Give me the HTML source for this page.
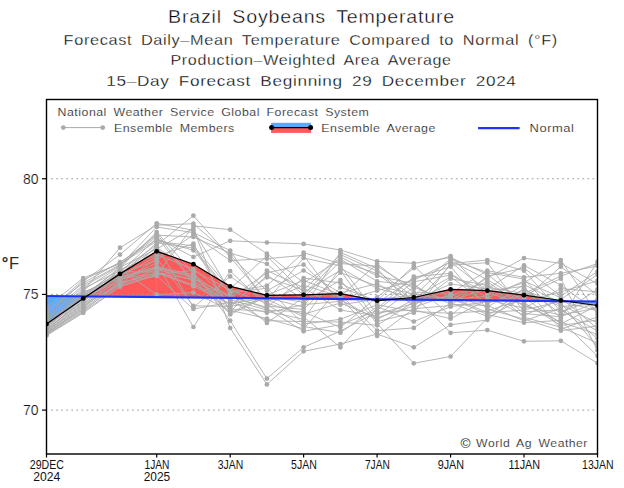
<!DOCTYPE html>
<html><head><meta charset="utf-8"><title>Brazil Soybeans Temperature</title>
<style>
html,body{margin:0;padding:0;background:#fff;}
body{width:624px;height:488px;overflow:hidden;}
svg{display:block;}
text{font-family:"Liberation Sans",Arial,sans-serif;fill:#2a2a2a;}
.th{stroke:#fff;stroke-width:0.38px;fill:#000;}
.th2{stroke:#fff;stroke-width:0.28px;fill:#000;}
.th3{stroke:#fff;stroke-width:0.2px;fill:#111;}

.ax{font-size:14px;stroke:#fff;stroke-width:0.2px;fill:#111;}
.xl{font-size:12.6px;fill:#111;}
</style></head><body>
<svg width="624" height="488" viewBox="0 0 624 488">
<defs><clipPath id="pc"><rect x="46.5" y="99.5" width="551" height="354.5"/></clipPath></defs>
<g clip-path="url(#pc)">
<polygon points="46.5,324.0 83.2,298.4 83.2,296.4 46.5,296.0" fill="#5AAAFF" stroke="#5AAAFF" stroke-width="0.6"/>
<polygon points="83.2,298.4 86.2,296.4 86.2,296.4 83.2,296.4" fill="#5AAAFF" stroke="#5AAAFF" stroke-width="0.6"/>
<polygon points="86.2,296.4 120.0,273.9 120.0,296.7 86.2,296.4" fill="#FF5A5A" stroke="#FF5A5A" stroke-width="0.6"/>
<polygon points="120.0,273.9 156.7,251.3 156.7,297.1 120.0,296.7" fill="#FF5A5A" stroke="#FF5A5A" stroke-width="0.6"/>
<polygon points="156.7,251.3 193.4,264.2 193.4,297.5 156.7,297.1" fill="#FF5A5A" stroke="#FF5A5A" stroke-width="0.6"/>
<polygon points="193.4,264.2 230.2,286.3 230.2,297.8 193.4,297.5" fill="#FF5A5A" stroke="#FF5A5A" stroke-width="0.6"/>
<polygon points="230.2,286.3 266.9,295.3 266.9,298.2 230.2,297.8" fill="#FF5A5A" stroke="#FF5A5A" stroke-width="0.6"/>
<polygon points="266.9,295.3 303.6,294.9 303.6,298.6 266.9,298.2" fill="#FF5A5A" stroke="#FF5A5A" stroke-width="0.6"/>
<polygon points="303.6,294.9 340.4,293.7 340.4,298.9 303.6,298.6" fill="#FF5A5A" stroke="#FF5A5A" stroke-width="0.6"/>
<polygon points="340.4,293.7 369.4,299.2 369.4,299.2 340.4,298.9" fill="#FF5A5A" stroke="#FF5A5A" stroke-width="0.6"/>
<polygon points="369.4,299.2 377.1,300.7 377.1,299.3 369.4,299.2" fill="#5AAAFF" stroke="#5AAAFF" stroke-width="0.6"/>
<polygon points="377.1,300.7 391.5,299.4 391.5,299.4 377.1,299.3" fill="#5AAAFF" stroke="#5AAAFF" stroke-width="0.6"/>
<polygon points="391.5,299.4 413.8,297.5 413.8,299.7 391.5,299.4" fill="#FF5A5A" stroke="#FF5A5A" stroke-width="0.6"/>
<polygon points="413.8,297.5 450.6,289.3 450.6,300.0 413.8,299.7" fill="#FF5A5A" stroke="#FF5A5A" stroke-width="0.6"/>
<polygon points="450.6,289.3 487.3,290.7 487.3,300.4 450.6,300.0" fill="#FF5A5A" stroke="#FF5A5A" stroke-width="0.6"/>
<polygon points="487.3,290.7 524.0,295.2 524.0,300.8 487.3,300.4" fill="#FF5A5A" stroke="#FF5A5A" stroke-width="0.6"/>
<polygon points="524.0,295.2 560.8,300.5 560.8,301.1 524.0,300.8" fill="#FF5A5A" stroke="#FF5A5A" stroke-width="0.6"/>
<polygon points="560.8,300.5 565.8,301.2 565.8,301.2 560.8,301.1" fill="#FF5A5A" stroke="#FF5A5A" stroke-width="0.6"/>
<polygon points="565.8,301.2 597.5,305.5 597.5,301.5 565.8,301.2" fill="#5AAAFF" stroke="#5AAAFF" stroke-width="0.6"/>
<g fill="none" stroke="#AAAAAA" stroke-width="1" stroke-opacity="0.85">
<polyline points="46.5,330.7 83.2,303.0 120.0,280.5 156.7,263.0 193.4,327.0 230.2,271.0 266.9,306.0 303.6,309.5 340.4,272.7 377.1,286.0 413.8,294.0 450.6,299.4 487.3,296.3 524.0,315.4 560.8,299.5 597.5,274.6"/>
<polyline points="46.5,333.6 83.2,307.0 120.0,273.4 156.7,247.5 193.4,272.0 230.2,320.7 266.9,378.6 303.6,347.3 340.4,331.0 377.1,312.2 413.8,310.0 450.6,318.7 487.3,299.9 524.0,308.2 560.8,288.6 597.5,291.8"/>
<polyline points="46.5,328.3 83.2,297.0 120.0,267.3 156.7,249.0 193.4,228.1 230.2,328.0 266.9,384.4 303.6,351.3 340.4,344.0 377.1,334.0 413.8,347.3 450.6,324.8 487.3,320.0 524.0,291.8 560.8,306.4 597.5,304.0"/>
<polyline points="46.5,325.5 83.2,296.0 120.0,268.1 156.7,232.0 193.4,273.3 230.2,314.5 266.9,296.4 303.6,302.2 340.4,280.0 377.1,323.5 413.8,363.3 450.6,356.5 487.3,318.0 524.0,297.3 560.8,323.8 597.5,305.7"/>
<polyline points="46.5,327.8 83.2,293.0 120.0,274.3 156.7,260.2 193.4,234.8 230.2,260.5 266.9,258.7 303.6,255.3 340.4,304.7 377.1,299.2 413.8,295.4 450.6,332.8 487.3,330.1 524.0,341.3 560.8,340.8 597.5,363.1"/>
<polyline points="46.5,324.5 83.2,288.3 120.0,270.8 156.7,245.0 193.4,215.7 230.2,257.0 266.9,300.5 303.6,258.0 340.4,265.9 377.1,314.1 413.8,303.4 450.6,295.7 487.3,281.7 524.0,306.4 560.8,315.1 597.5,307.9"/>
<polyline points="46.5,331.2 83.2,305.0 120.0,269.0 156.7,294.7 193.4,292.5 230.2,310.4 266.9,318.5 303.6,328.9 340.4,287.3 377.1,301.0 413.8,265.7 450.6,300.6 487.3,278.0 524.0,258.1 560.8,263.4 597.5,283.8"/>
<polyline points="46.5,335.5 83.2,313.0 120.0,286.6 156.7,275.1 193.4,225.8 230.2,229.7 266.9,253.6 303.6,282.8 340.4,259.1 377.1,281.3 413.8,285.3 450.6,304.3 487.3,305.4 524.0,320.9 560.8,308.1 597.5,338.7"/>
<polyline points="46.5,326.9 83.2,294.0 120.0,272.5 156.7,238.2 193.4,257.0 230.2,240.8 266.9,242.5 303.6,243.9 340.4,250.0 377.1,261.3 413.8,263.3 450.6,257.5 487.3,274.4 524.0,302.7 560.8,325.5 597.5,320.0"/>
<polyline points="46.5,325.9 83.2,291.0 120.0,247.7 156.7,225.2 193.4,223.7 230.2,255.6 266.9,290.8 303.6,270.5 340.4,293.0 377.1,283.6 413.8,304.7 450.6,265.2 487.3,262.7 524.0,311.8 560.8,309.9 597.5,331.0"/>
<polyline points="46.5,334.5 83.2,311.0 120.0,282.2 156.7,275.9 193.4,309.0 230.2,302.3 266.9,312.8 303.6,304.6 340.4,301.4 377.1,290.7 413.8,280.1 450.6,262.1 487.3,290.8 524.0,286.4 560.8,329.0 597.5,317.0"/>
<polyline points="46.5,334.1 83.2,309.0 120.0,281.3 156.7,245.9 193.4,307.4 230.2,276.4 266.9,301.8 303.6,285.3 340.4,296.3 377.1,263.8 413.8,292.7 450.6,293.3 487.3,270.7 524.0,277.3 560.8,273.3 597.5,266.0"/>
<polyline points="46.5,331.7 83.2,304.0 120.0,284.8 156.7,269.0 193.4,280.5 230.2,313.1 266.9,295.0 303.6,280.4 340.4,294.7 377.1,330.7 413.8,327.9 450.6,303.0 487.3,316.3 524.0,288.2 560.8,313.4 597.5,289.4"/>
<polyline points="46.5,325.0 83.2,295.0 120.0,276.9 156.7,266.7 193.4,274.8 230.2,300.9 266.9,320.7 303.6,321.6 340.4,322.0 377.1,325.3 413.8,302.0 450.6,298.2 487.3,314.5 524.0,322.7 560.8,320.3 597.5,356.0"/>
<polyline points="46.5,330.2 83.2,298.0 120.0,269.9 156.7,254.7 193.4,269.0 230.2,298.2 266.9,272.8 303.6,264.7 340.4,299.7 377.1,319.7 413.8,299.4 450.6,297.0 487.3,312.7 524.0,310.0 560.8,301.2 597.5,310.8"/>
<polyline points="46.5,335.0 83.2,312.0 120.0,285.7 156.7,274.3 193.4,270.4 230.2,290.1 266.9,303.2 303.6,314.3 340.4,303.0 377.1,317.8 413.8,306.0 450.6,278.7 487.3,285.3 524.0,317.3 560.8,327.2 597.5,343.0"/>
<polyline points="46.5,318.0 83.2,284.9 120.0,264.6 156.7,236.6 193.4,283.4 230.2,309.1 266.9,311.4 303.6,319.2 340.4,268.2 377.1,288.4 413.8,298.0 450.6,276.9 487.3,303.6 524.0,290.0 560.8,304.7 597.5,323.0"/>
<polyline points="46.5,327.4 83.2,292.0 120.0,278.7 156.7,273.6 193.4,279.1 230.2,295.5 266.9,308.7 303.6,331.3 340.4,324.7 377.1,310.4 413.8,281.8 450.6,275.1 487.3,292.6 524.0,304.5 560.8,322.0 597.5,334.4"/>
<polyline points="46.5,310.5 83.2,283.1 120.0,262.0 156.7,239.7 193.4,250.3 230.2,294.1 266.9,322.9 303.6,297.4 340.4,261.4 377.1,273.6 413.8,300.7 450.6,284.0 487.3,289.0 524.0,265.3 560.8,285.3 597.5,312.0"/>
<polyline points="46.5,320.0 83.2,286.6 120.0,265.5 156.7,227.0 193.4,232.6 230.2,250.6 266.9,304.6 303.6,326.5 340.4,332.7 377.1,306.6 413.8,321.5 450.6,306.7 487.3,301.7 524.0,295.5 560.8,278.7 597.5,350.2"/>
<polyline points="46.5,313.0 83.2,279.7 120.0,262.9 156.7,235.1 193.4,237.0 230.2,253.1 266.9,263.8 303.6,295.0 340.4,256.8 377.1,276.0 413.8,283.6 450.6,316.0 487.3,283.5 524.0,313.6 560.8,316.8 597.5,302.0"/>
<polyline points="46.5,328.8 83.2,301.0 120.0,276.1 156.7,256.5 193.4,243.7 230.2,311.8 266.9,275.0 303.6,299.8 340.4,298.0 377.1,336.0 413.8,308.7 450.6,305.5 487.3,276.2 524.0,268.0 560.8,296.0 597.5,271.5"/>
<polyline points="46.5,322.0 83.2,290.0 120.0,266.4 156.7,233.5 193.4,282.0 230.2,296.8 266.9,307.3 303.6,278.0 340.4,283.0 377.1,302.9 413.8,278.4 450.6,266.7 487.3,309.0 524.0,319.1 560.8,330.7 597.5,326.0"/>
<polyline points="46.5,333.1 83.2,308.0 120.0,277.8 156.7,267.5 193.4,277.6 230.2,305.0 266.9,277.3 303.6,290.1 340.4,254.5 377.1,271.1 413.8,296.7 450.6,260.6 487.3,279.8 524.0,300.9 560.8,292.0 597.5,280.7"/>
<polyline points="46.5,332.6 83.2,310.0 120.0,284.0 156.7,258.4 193.4,305.8 230.2,306.4 266.9,299.1 303.6,316.8 340.4,347.3 377.1,308.5 413.8,276.7 450.6,273.3 487.3,298.1 524.0,280.9 560.8,297.7 597.5,328.7"/>
<polyline points="46.5,329.3 83.2,302.0 120.0,271.7 156.7,272.0 193.4,284.9 230.2,299.6 266.9,310.1 303.6,311.9 340.4,327.3 377.1,297.3 413.8,268.1 450.6,256.0 487.3,294.4 524.0,282.7 560.8,260.0 597.5,314.3"/>
<polyline points="46.5,307.5 83.2,278.0 120.0,263.8 156.7,241.3 193.4,245.9 230.2,288.7 266.9,256.1 303.6,292.5 340.4,270.4 377.1,321.6 413.8,312.7 450.6,263.6 487.3,260.0 524.0,270.7 560.8,311.6 597.5,299.2"/>
<polyline points="46.5,326.4 83.2,299.0 120.0,279.6 156.7,268.2 193.4,276.2 230.2,307.7 266.9,270.5 303.6,287.7 340.4,310.0 377.1,316.0 413.8,287.0 450.6,301.8 487.3,287.1 524.0,293.6 560.8,276.0 597.5,263.5"/>
<polyline points="46.5,329.8 83.2,300.0 120.0,275.2 156.7,242.8 193.4,248.1 230.2,292.8 266.9,288.2 303.6,324.0 340.4,319.3 377.1,304.8 413.8,311.4 450.6,313.3 487.3,310.9 524.0,299.1 560.8,266.7 597.5,295.0"/>
<polyline points="46.5,332.2 83.2,306.0 120.0,283.1 156.7,272.8 193.4,286.3 230.2,303.6 266.9,297.7 303.6,307.1 340.4,252.3 377.1,268.6 413.8,307.4 450.6,294.5 487.3,307.2 524.0,284.6 560.8,302.9 597.5,347.0"/>
<polyline points="46.5,315.5 83.2,281.4 120.0,254.6 156.7,223.3 193.4,230.3 230.2,291.4 266.9,285.7 303.6,252.7 340.4,263.6 377.1,266.2 413.8,288.7 450.6,259.1 487.3,272.5 524.0,279.1 560.8,318.6 597.5,261.7"/>
</g>
<line x1="51.1" y1="178.75" x2="597" y2="178.75" stroke="#9a9a9a" stroke-width="1" stroke-dasharray="1.7,3.36"/>
<line x1="51.1" y1="294.4" x2="597" y2="294.4" stroke="#9a9a9a" stroke-width="1" stroke-dasharray="1.7,3.36"/>
<line x1="51.1" y1="410.1" x2="597" y2="410.1" stroke="#9a9a9a" stroke-width="1" stroke-dasharray="1.7,3.36"/>
<g fill="#AAAAAA">
<circle cx="46.5" cy="330.7" r="2.35"/>
<circle cx="83.2" cy="303.0" r="2.35"/>
<circle cx="120.0" cy="280.5" r="2.35"/>
<circle cx="156.7" cy="263.0" r="2.35"/>
<circle cx="193.4" cy="327.0" r="2.35"/>
<circle cx="230.2" cy="271.0" r="2.35"/>
<circle cx="266.9" cy="306.0" r="2.35"/>
<circle cx="303.6" cy="309.5" r="2.35"/>
<circle cx="340.4" cy="272.7" r="2.35"/>
<circle cx="377.1" cy="286.0" r="2.35"/>
<circle cx="413.8" cy="294.0" r="2.35"/>
<circle cx="450.6" cy="299.4" r="2.35"/>
<circle cx="487.3" cy="296.3" r="2.35"/>
<circle cx="524.0" cy="315.4" r="2.35"/>
<circle cx="560.8" cy="299.5" r="2.35"/>
<circle cx="597.5" cy="274.6" r="2.35"/>
<circle cx="46.5" cy="333.6" r="2.35"/>
<circle cx="83.2" cy="307.0" r="2.35"/>
<circle cx="120.0" cy="273.4" r="2.35"/>
<circle cx="156.7" cy="247.5" r="2.35"/>
<circle cx="193.4" cy="272.0" r="2.35"/>
<circle cx="230.2" cy="320.7" r="2.35"/>
<circle cx="266.9" cy="378.6" r="2.35"/>
<circle cx="303.6" cy="347.3" r="2.35"/>
<circle cx="340.4" cy="331.0" r="2.35"/>
<circle cx="377.1" cy="312.2" r="2.35"/>
<circle cx="413.8" cy="310.0" r="2.35"/>
<circle cx="450.6" cy="318.7" r="2.35"/>
<circle cx="487.3" cy="299.9" r="2.35"/>
<circle cx="524.0" cy="308.2" r="2.35"/>
<circle cx="560.8" cy="288.6" r="2.35"/>
<circle cx="597.5" cy="291.8" r="2.35"/>
<circle cx="46.5" cy="328.3" r="2.35"/>
<circle cx="83.2" cy="297.0" r="2.35"/>
<circle cx="120.0" cy="267.3" r="2.35"/>
<circle cx="156.7" cy="249.0" r="2.35"/>
<circle cx="193.4" cy="228.1" r="2.35"/>
<circle cx="230.2" cy="328.0" r="2.35"/>
<circle cx="266.9" cy="384.4" r="2.35"/>
<circle cx="303.6" cy="351.3" r="2.35"/>
<circle cx="340.4" cy="344.0" r="2.35"/>
<circle cx="377.1" cy="334.0" r="2.35"/>
<circle cx="413.8" cy="347.3" r="2.35"/>
<circle cx="450.6" cy="324.8" r="2.35"/>
<circle cx="487.3" cy="320.0" r="2.35"/>
<circle cx="524.0" cy="291.8" r="2.35"/>
<circle cx="560.8" cy="306.4" r="2.35"/>
<circle cx="597.5" cy="304.0" r="2.35"/>
<circle cx="46.5" cy="325.5" r="2.35"/>
<circle cx="83.2" cy="296.0" r="2.35"/>
<circle cx="120.0" cy="268.1" r="2.35"/>
<circle cx="156.7" cy="232.0" r="2.35"/>
<circle cx="193.4" cy="273.3" r="2.35"/>
<circle cx="230.2" cy="314.5" r="2.35"/>
<circle cx="266.9" cy="296.4" r="2.35"/>
<circle cx="303.6" cy="302.2" r="2.35"/>
<circle cx="340.4" cy="280.0" r="2.35"/>
<circle cx="377.1" cy="323.5" r="2.35"/>
<circle cx="413.8" cy="363.3" r="2.35"/>
<circle cx="450.6" cy="356.5" r="2.35"/>
<circle cx="487.3" cy="318.0" r="2.35"/>
<circle cx="524.0" cy="297.3" r="2.35"/>
<circle cx="560.8" cy="323.8" r="2.35"/>
<circle cx="597.5" cy="305.7" r="2.35"/>
<circle cx="46.5" cy="327.8" r="2.35"/>
<circle cx="83.2" cy="293.0" r="2.35"/>
<circle cx="120.0" cy="274.3" r="2.35"/>
<circle cx="156.7" cy="260.2" r="2.35"/>
<circle cx="193.4" cy="234.8" r="2.35"/>
<circle cx="230.2" cy="260.5" r="2.35"/>
<circle cx="266.9" cy="258.7" r="2.35"/>
<circle cx="303.6" cy="255.3" r="2.35"/>
<circle cx="340.4" cy="304.7" r="2.35"/>
<circle cx="377.1" cy="299.2" r="2.35"/>
<circle cx="413.8" cy="295.4" r="2.35"/>
<circle cx="450.6" cy="332.8" r="2.35"/>
<circle cx="487.3" cy="330.1" r="2.35"/>
<circle cx="524.0" cy="341.3" r="2.35"/>
<circle cx="560.8" cy="340.8" r="2.35"/>
<circle cx="597.5" cy="363.1" r="2.35"/>
<circle cx="46.5" cy="324.5" r="2.35"/>
<circle cx="83.2" cy="288.3" r="2.35"/>
<circle cx="120.0" cy="270.8" r="2.35"/>
<circle cx="156.7" cy="245.0" r="2.35"/>
<circle cx="193.4" cy="215.7" r="2.35"/>
<circle cx="230.2" cy="257.0" r="2.35"/>
<circle cx="266.9" cy="300.5" r="2.35"/>
<circle cx="303.6" cy="258.0" r="2.35"/>
<circle cx="340.4" cy="265.9" r="2.35"/>
<circle cx="377.1" cy="314.1" r="2.35"/>
<circle cx="413.8" cy="303.4" r="2.35"/>
<circle cx="450.6" cy="295.7" r="2.35"/>
<circle cx="487.3" cy="281.7" r="2.35"/>
<circle cx="524.0" cy="306.4" r="2.35"/>
<circle cx="560.8" cy="315.1" r="2.35"/>
<circle cx="597.5" cy="307.9" r="2.35"/>
<circle cx="46.5" cy="331.2" r="2.35"/>
<circle cx="83.2" cy="305.0" r="2.35"/>
<circle cx="120.0" cy="269.0" r="2.35"/>
<circle cx="156.7" cy="294.7" r="2.35"/>
<circle cx="193.4" cy="292.5" r="2.35"/>
<circle cx="230.2" cy="310.4" r="2.35"/>
<circle cx="266.9" cy="318.5" r="2.35"/>
<circle cx="303.6" cy="328.9" r="2.35"/>
<circle cx="340.4" cy="287.3" r="2.35"/>
<circle cx="377.1" cy="301.0" r="2.35"/>
<circle cx="413.8" cy="265.7" r="2.35"/>
<circle cx="450.6" cy="300.6" r="2.35"/>
<circle cx="487.3" cy="278.0" r="2.35"/>
<circle cx="524.0" cy="258.1" r="2.35"/>
<circle cx="560.8" cy="263.4" r="2.35"/>
<circle cx="597.5" cy="283.8" r="2.35"/>
<circle cx="46.5" cy="335.5" r="2.35"/>
<circle cx="83.2" cy="313.0" r="2.35"/>
<circle cx="120.0" cy="286.6" r="2.35"/>
<circle cx="156.7" cy="275.1" r="2.35"/>
<circle cx="193.4" cy="225.8" r="2.35"/>
<circle cx="230.2" cy="229.7" r="2.35"/>
<circle cx="266.9" cy="253.6" r="2.35"/>
<circle cx="303.6" cy="282.8" r="2.35"/>
<circle cx="340.4" cy="259.1" r="2.35"/>
<circle cx="377.1" cy="281.3" r="2.35"/>
<circle cx="413.8" cy="285.3" r="2.35"/>
<circle cx="450.6" cy="304.3" r="2.35"/>
<circle cx="487.3" cy="305.4" r="2.35"/>
<circle cx="524.0" cy="320.9" r="2.35"/>
<circle cx="560.8" cy="308.1" r="2.35"/>
<circle cx="597.5" cy="338.7" r="2.35"/>
<circle cx="46.5" cy="326.9" r="2.35"/>
<circle cx="83.2" cy="294.0" r="2.35"/>
<circle cx="120.0" cy="272.5" r="2.35"/>
<circle cx="156.7" cy="238.2" r="2.35"/>
<circle cx="193.4" cy="257.0" r="2.35"/>
<circle cx="230.2" cy="240.8" r="2.35"/>
<circle cx="266.9" cy="242.5" r="2.35"/>
<circle cx="303.6" cy="243.9" r="2.35"/>
<circle cx="340.4" cy="250.0" r="2.35"/>
<circle cx="377.1" cy="261.3" r="2.35"/>
<circle cx="413.8" cy="263.3" r="2.35"/>
<circle cx="450.6" cy="257.5" r="2.35"/>
<circle cx="487.3" cy="274.4" r="2.35"/>
<circle cx="524.0" cy="302.7" r="2.35"/>
<circle cx="560.8" cy="325.5" r="2.35"/>
<circle cx="597.5" cy="320.0" r="2.35"/>
<circle cx="46.5" cy="325.9" r="2.35"/>
<circle cx="83.2" cy="291.0" r="2.35"/>
<circle cx="120.0" cy="247.7" r="2.35"/>
<circle cx="156.7" cy="225.2" r="2.35"/>
<circle cx="193.4" cy="223.7" r="2.35"/>
<circle cx="230.2" cy="255.6" r="2.35"/>
<circle cx="266.9" cy="290.8" r="2.35"/>
<circle cx="303.6" cy="270.5" r="2.35"/>
<circle cx="340.4" cy="293.0" r="2.35"/>
<circle cx="377.1" cy="283.6" r="2.35"/>
<circle cx="413.8" cy="304.7" r="2.35"/>
<circle cx="450.6" cy="265.2" r="2.35"/>
<circle cx="487.3" cy="262.7" r="2.35"/>
<circle cx="524.0" cy="311.8" r="2.35"/>
<circle cx="560.8" cy="309.9" r="2.35"/>
<circle cx="597.5" cy="331.0" r="2.35"/>
<circle cx="46.5" cy="334.5" r="2.35"/>
<circle cx="83.2" cy="311.0" r="2.35"/>
<circle cx="120.0" cy="282.2" r="2.35"/>
<circle cx="156.7" cy="275.9" r="2.35"/>
<circle cx="193.4" cy="309.0" r="2.35"/>
<circle cx="230.2" cy="302.3" r="2.35"/>
<circle cx="266.9" cy="312.8" r="2.35"/>
<circle cx="303.6" cy="304.6" r="2.35"/>
<circle cx="340.4" cy="301.4" r="2.35"/>
<circle cx="377.1" cy="290.7" r="2.35"/>
<circle cx="413.8" cy="280.1" r="2.35"/>
<circle cx="450.6" cy="262.1" r="2.35"/>
<circle cx="487.3" cy="290.8" r="2.35"/>
<circle cx="524.0" cy="286.4" r="2.35"/>
<circle cx="560.8" cy="329.0" r="2.35"/>
<circle cx="597.5" cy="317.0" r="2.35"/>
<circle cx="46.5" cy="334.1" r="2.35"/>
<circle cx="83.2" cy="309.0" r="2.35"/>
<circle cx="120.0" cy="281.3" r="2.35"/>
<circle cx="156.7" cy="245.9" r="2.35"/>
<circle cx="193.4" cy="307.4" r="2.35"/>
<circle cx="230.2" cy="276.4" r="2.35"/>
<circle cx="266.9" cy="301.8" r="2.35"/>
<circle cx="303.6" cy="285.3" r="2.35"/>
<circle cx="340.4" cy="296.3" r="2.35"/>
<circle cx="377.1" cy="263.8" r="2.35"/>
<circle cx="413.8" cy="292.7" r="2.35"/>
<circle cx="450.6" cy="293.3" r="2.35"/>
<circle cx="487.3" cy="270.7" r="2.35"/>
<circle cx="524.0" cy="277.3" r="2.35"/>
<circle cx="560.8" cy="273.3" r="2.35"/>
<circle cx="597.5" cy="266.0" r="2.35"/>
<circle cx="46.5" cy="331.7" r="2.35"/>
<circle cx="83.2" cy="304.0" r="2.35"/>
<circle cx="120.0" cy="284.8" r="2.35"/>
<circle cx="156.7" cy="269.0" r="2.35"/>
<circle cx="193.4" cy="280.5" r="2.35"/>
<circle cx="230.2" cy="313.1" r="2.35"/>
<circle cx="266.9" cy="295.0" r="2.35"/>
<circle cx="303.6" cy="280.4" r="2.35"/>
<circle cx="340.4" cy="294.7" r="2.35"/>
<circle cx="377.1" cy="330.7" r="2.35"/>
<circle cx="413.8" cy="327.9" r="2.35"/>
<circle cx="450.6" cy="303.0" r="2.35"/>
<circle cx="487.3" cy="316.3" r="2.35"/>
<circle cx="524.0" cy="288.2" r="2.35"/>
<circle cx="560.8" cy="313.4" r="2.35"/>
<circle cx="597.5" cy="289.4" r="2.35"/>
<circle cx="46.5" cy="325.0" r="2.35"/>
<circle cx="83.2" cy="295.0" r="2.35"/>
<circle cx="120.0" cy="276.9" r="2.35"/>
<circle cx="156.7" cy="266.7" r="2.35"/>
<circle cx="193.4" cy="274.8" r="2.35"/>
<circle cx="230.2" cy="300.9" r="2.35"/>
<circle cx="266.9" cy="320.7" r="2.35"/>
<circle cx="303.6" cy="321.6" r="2.35"/>
<circle cx="340.4" cy="322.0" r="2.35"/>
<circle cx="377.1" cy="325.3" r="2.35"/>
<circle cx="413.8" cy="302.0" r="2.35"/>
<circle cx="450.6" cy="298.2" r="2.35"/>
<circle cx="487.3" cy="314.5" r="2.35"/>
<circle cx="524.0" cy="322.7" r="2.35"/>
<circle cx="560.8" cy="320.3" r="2.35"/>
<circle cx="597.5" cy="356.0" r="2.35"/>
<circle cx="46.5" cy="330.2" r="2.35"/>
<circle cx="83.2" cy="298.0" r="2.35"/>
<circle cx="120.0" cy="269.9" r="2.35"/>
<circle cx="156.7" cy="254.7" r="2.35"/>
<circle cx="193.4" cy="269.0" r="2.35"/>
<circle cx="230.2" cy="298.2" r="2.35"/>
<circle cx="266.9" cy="272.8" r="2.35"/>
<circle cx="303.6" cy="264.7" r="2.35"/>
<circle cx="340.4" cy="299.7" r="2.35"/>
<circle cx="377.1" cy="319.7" r="2.35"/>
<circle cx="413.8" cy="299.4" r="2.35"/>
<circle cx="450.6" cy="297.0" r="2.35"/>
<circle cx="487.3" cy="312.7" r="2.35"/>
<circle cx="524.0" cy="310.0" r="2.35"/>
<circle cx="560.8" cy="301.2" r="2.35"/>
<circle cx="597.5" cy="310.8" r="2.35"/>
<circle cx="46.5" cy="335.0" r="2.35"/>
<circle cx="83.2" cy="312.0" r="2.35"/>
<circle cx="120.0" cy="285.7" r="2.35"/>
<circle cx="156.7" cy="274.3" r="2.35"/>
<circle cx="193.4" cy="270.4" r="2.35"/>
<circle cx="230.2" cy="290.1" r="2.35"/>
<circle cx="266.9" cy="303.2" r="2.35"/>
<circle cx="303.6" cy="314.3" r="2.35"/>
<circle cx="340.4" cy="303.0" r="2.35"/>
<circle cx="377.1" cy="317.8" r="2.35"/>
<circle cx="413.8" cy="306.0" r="2.35"/>
<circle cx="450.6" cy="278.7" r="2.35"/>
<circle cx="487.3" cy="285.3" r="2.35"/>
<circle cx="524.0" cy="317.3" r="2.35"/>
<circle cx="560.8" cy="327.2" r="2.35"/>
<circle cx="597.5" cy="343.0" r="2.35"/>
<circle cx="46.5" cy="318.0" r="2.35"/>
<circle cx="83.2" cy="284.9" r="2.35"/>
<circle cx="120.0" cy="264.6" r="2.35"/>
<circle cx="156.7" cy="236.6" r="2.35"/>
<circle cx="193.4" cy="283.4" r="2.35"/>
<circle cx="230.2" cy="309.1" r="2.35"/>
<circle cx="266.9" cy="311.4" r="2.35"/>
<circle cx="303.6" cy="319.2" r="2.35"/>
<circle cx="340.4" cy="268.2" r="2.35"/>
<circle cx="377.1" cy="288.4" r="2.35"/>
<circle cx="413.8" cy="298.0" r="2.35"/>
<circle cx="450.6" cy="276.9" r="2.35"/>
<circle cx="487.3" cy="303.6" r="2.35"/>
<circle cx="524.0" cy="290.0" r="2.35"/>
<circle cx="560.8" cy="304.7" r="2.35"/>
<circle cx="597.5" cy="323.0" r="2.35"/>
<circle cx="46.5" cy="327.4" r="2.35"/>
<circle cx="83.2" cy="292.0" r="2.35"/>
<circle cx="120.0" cy="278.7" r="2.35"/>
<circle cx="156.7" cy="273.6" r="2.35"/>
<circle cx="193.4" cy="279.1" r="2.35"/>
<circle cx="230.2" cy="295.5" r="2.35"/>
<circle cx="266.9" cy="308.7" r="2.35"/>
<circle cx="303.6" cy="331.3" r="2.35"/>
<circle cx="340.4" cy="324.7" r="2.35"/>
<circle cx="377.1" cy="310.4" r="2.35"/>
<circle cx="413.8" cy="281.8" r="2.35"/>
<circle cx="450.6" cy="275.1" r="2.35"/>
<circle cx="487.3" cy="292.6" r="2.35"/>
<circle cx="524.0" cy="304.5" r="2.35"/>
<circle cx="560.8" cy="322.0" r="2.35"/>
<circle cx="597.5" cy="334.4" r="2.35"/>
<circle cx="46.5" cy="310.5" r="2.35"/>
<circle cx="83.2" cy="283.1" r="2.35"/>
<circle cx="120.0" cy="262.0" r="2.35"/>
<circle cx="156.7" cy="239.7" r="2.35"/>
<circle cx="193.4" cy="250.3" r="2.35"/>
<circle cx="230.2" cy="294.1" r="2.35"/>
<circle cx="266.9" cy="322.9" r="2.35"/>
<circle cx="303.6" cy="297.4" r="2.35"/>
<circle cx="340.4" cy="261.4" r="2.35"/>
<circle cx="377.1" cy="273.6" r="2.35"/>
<circle cx="413.8" cy="300.7" r="2.35"/>
<circle cx="450.6" cy="284.0" r="2.35"/>
<circle cx="487.3" cy="289.0" r="2.35"/>
<circle cx="524.0" cy="265.3" r="2.35"/>
<circle cx="560.8" cy="285.3" r="2.35"/>
<circle cx="597.5" cy="312.0" r="2.35"/>
<circle cx="46.5" cy="320.0" r="2.35"/>
<circle cx="83.2" cy="286.6" r="2.35"/>
<circle cx="120.0" cy="265.5" r="2.35"/>
<circle cx="156.7" cy="227.0" r="2.35"/>
<circle cx="193.4" cy="232.6" r="2.35"/>
<circle cx="230.2" cy="250.6" r="2.35"/>
<circle cx="266.9" cy="304.6" r="2.35"/>
<circle cx="303.6" cy="326.5" r="2.35"/>
<circle cx="340.4" cy="332.7" r="2.35"/>
<circle cx="377.1" cy="306.6" r="2.35"/>
<circle cx="413.8" cy="321.5" r="2.35"/>
<circle cx="450.6" cy="306.7" r="2.35"/>
<circle cx="487.3" cy="301.7" r="2.35"/>
<circle cx="524.0" cy="295.5" r="2.35"/>
<circle cx="560.8" cy="278.7" r="2.35"/>
<circle cx="597.5" cy="350.2" r="2.35"/>
<circle cx="46.5" cy="313.0" r="2.35"/>
<circle cx="83.2" cy="279.7" r="2.35"/>
<circle cx="120.0" cy="262.9" r="2.35"/>
<circle cx="156.7" cy="235.1" r="2.35"/>
<circle cx="193.4" cy="237.0" r="2.35"/>
<circle cx="230.2" cy="253.1" r="2.35"/>
<circle cx="266.9" cy="263.8" r="2.35"/>
<circle cx="303.6" cy="295.0" r="2.35"/>
<circle cx="340.4" cy="256.8" r="2.35"/>
<circle cx="377.1" cy="276.0" r="2.35"/>
<circle cx="413.8" cy="283.6" r="2.35"/>
<circle cx="450.6" cy="316.0" r="2.35"/>
<circle cx="487.3" cy="283.5" r="2.35"/>
<circle cx="524.0" cy="313.6" r="2.35"/>
<circle cx="560.8" cy="316.8" r="2.35"/>
<circle cx="597.5" cy="302.0" r="2.35"/>
<circle cx="46.5" cy="328.8" r="2.35"/>
<circle cx="83.2" cy="301.0" r="2.35"/>
<circle cx="120.0" cy="276.1" r="2.35"/>
<circle cx="156.7" cy="256.5" r="2.35"/>
<circle cx="193.4" cy="243.7" r="2.35"/>
<circle cx="230.2" cy="311.8" r="2.35"/>
<circle cx="266.9" cy="275.0" r="2.35"/>
<circle cx="303.6" cy="299.8" r="2.35"/>
<circle cx="340.4" cy="298.0" r="2.35"/>
<circle cx="377.1" cy="336.0" r="2.35"/>
<circle cx="413.8" cy="308.7" r="2.35"/>
<circle cx="450.6" cy="305.5" r="2.35"/>
<circle cx="487.3" cy="276.2" r="2.35"/>
<circle cx="524.0" cy="268.0" r="2.35"/>
<circle cx="560.8" cy="296.0" r="2.35"/>
<circle cx="597.5" cy="271.5" r="2.35"/>
<circle cx="46.5" cy="322.0" r="2.35"/>
<circle cx="83.2" cy="290.0" r="2.35"/>
<circle cx="120.0" cy="266.4" r="2.35"/>
<circle cx="156.7" cy="233.5" r="2.35"/>
<circle cx="193.4" cy="282.0" r="2.35"/>
<circle cx="230.2" cy="296.8" r="2.35"/>
<circle cx="266.9" cy="307.3" r="2.35"/>
<circle cx="303.6" cy="278.0" r="2.35"/>
<circle cx="340.4" cy="283.0" r="2.35"/>
<circle cx="377.1" cy="302.9" r="2.35"/>
<circle cx="413.8" cy="278.4" r="2.35"/>
<circle cx="450.6" cy="266.7" r="2.35"/>
<circle cx="487.3" cy="309.0" r="2.35"/>
<circle cx="524.0" cy="319.1" r="2.35"/>
<circle cx="560.8" cy="330.7" r="2.35"/>
<circle cx="597.5" cy="326.0" r="2.35"/>
<circle cx="46.5" cy="333.1" r="2.35"/>
<circle cx="83.2" cy="308.0" r="2.35"/>
<circle cx="120.0" cy="277.8" r="2.35"/>
<circle cx="156.7" cy="267.5" r="2.35"/>
<circle cx="193.4" cy="277.6" r="2.35"/>
<circle cx="230.2" cy="305.0" r="2.35"/>
<circle cx="266.9" cy="277.3" r="2.35"/>
<circle cx="303.6" cy="290.1" r="2.35"/>
<circle cx="340.4" cy="254.5" r="2.35"/>
<circle cx="377.1" cy="271.1" r="2.35"/>
<circle cx="413.8" cy="296.7" r="2.35"/>
<circle cx="450.6" cy="260.6" r="2.35"/>
<circle cx="487.3" cy="279.8" r="2.35"/>
<circle cx="524.0" cy="300.9" r="2.35"/>
<circle cx="560.8" cy="292.0" r="2.35"/>
<circle cx="597.5" cy="280.7" r="2.35"/>
<circle cx="46.5" cy="332.6" r="2.35"/>
<circle cx="83.2" cy="310.0" r="2.35"/>
<circle cx="120.0" cy="284.0" r="2.35"/>
<circle cx="156.7" cy="258.4" r="2.35"/>
<circle cx="193.4" cy="305.8" r="2.35"/>
<circle cx="230.2" cy="306.4" r="2.35"/>
<circle cx="266.9" cy="299.1" r="2.35"/>
<circle cx="303.6" cy="316.8" r="2.35"/>
<circle cx="340.4" cy="347.3" r="2.35"/>
<circle cx="377.1" cy="308.5" r="2.35"/>
<circle cx="413.8" cy="276.7" r="2.35"/>
<circle cx="450.6" cy="273.3" r="2.35"/>
<circle cx="487.3" cy="298.1" r="2.35"/>
<circle cx="524.0" cy="280.9" r="2.35"/>
<circle cx="560.8" cy="297.7" r="2.35"/>
<circle cx="597.5" cy="328.7" r="2.35"/>
<circle cx="46.5" cy="329.3" r="2.35"/>
<circle cx="83.2" cy="302.0" r="2.35"/>
<circle cx="120.0" cy="271.7" r="2.35"/>
<circle cx="156.7" cy="272.0" r="2.35"/>
<circle cx="193.4" cy="284.9" r="2.35"/>
<circle cx="230.2" cy="299.6" r="2.35"/>
<circle cx="266.9" cy="310.1" r="2.35"/>
<circle cx="303.6" cy="311.9" r="2.35"/>
<circle cx="340.4" cy="327.3" r="2.35"/>
<circle cx="377.1" cy="297.3" r="2.35"/>
<circle cx="413.8" cy="268.1" r="2.35"/>
<circle cx="450.6" cy="256.0" r="2.35"/>
<circle cx="487.3" cy="294.4" r="2.35"/>
<circle cx="524.0" cy="282.7" r="2.35"/>
<circle cx="560.8" cy="260.0" r="2.35"/>
<circle cx="597.5" cy="314.3" r="2.35"/>
<circle cx="46.5" cy="307.5" r="2.35"/>
<circle cx="83.2" cy="278.0" r="2.35"/>
<circle cx="120.0" cy="263.8" r="2.35"/>
<circle cx="156.7" cy="241.3" r="2.35"/>
<circle cx="193.4" cy="245.9" r="2.35"/>
<circle cx="230.2" cy="288.7" r="2.35"/>
<circle cx="266.9" cy="256.1" r="2.35"/>
<circle cx="303.6" cy="292.5" r="2.35"/>
<circle cx="340.4" cy="270.4" r="2.35"/>
<circle cx="377.1" cy="321.6" r="2.35"/>
<circle cx="413.8" cy="312.7" r="2.35"/>
<circle cx="450.6" cy="263.6" r="2.35"/>
<circle cx="487.3" cy="260.0" r="2.35"/>
<circle cx="524.0" cy="270.7" r="2.35"/>
<circle cx="560.8" cy="311.6" r="2.35"/>
<circle cx="597.5" cy="299.2" r="2.35"/>
<circle cx="46.5" cy="326.4" r="2.35"/>
<circle cx="83.2" cy="299.0" r="2.35"/>
<circle cx="120.0" cy="279.6" r="2.35"/>
<circle cx="156.7" cy="268.2" r="2.35"/>
<circle cx="193.4" cy="276.2" r="2.35"/>
<circle cx="230.2" cy="307.7" r="2.35"/>
<circle cx="266.9" cy="270.5" r="2.35"/>
<circle cx="303.6" cy="287.7" r="2.35"/>
<circle cx="340.4" cy="310.0" r="2.35"/>
<circle cx="377.1" cy="316.0" r="2.35"/>
<circle cx="413.8" cy="287.0" r="2.35"/>
<circle cx="450.6" cy="301.8" r="2.35"/>
<circle cx="487.3" cy="287.1" r="2.35"/>
<circle cx="524.0" cy="293.6" r="2.35"/>
<circle cx="560.8" cy="276.0" r="2.35"/>
<circle cx="597.5" cy="263.5" r="2.35"/>
<circle cx="46.5" cy="329.8" r="2.35"/>
<circle cx="83.2" cy="300.0" r="2.35"/>
<circle cx="120.0" cy="275.2" r="2.35"/>
<circle cx="156.7" cy="242.8" r="2.35"/>
<circle cx="193.4" cy="248.1" r="2.35"/>
<circle cx="230.2" cy="292.8" r="2.35"/>
<circle cx="266.9" cy="288.2" r="2.35"/>
<circle cx="303.6" cy="324.0" r="2.35"/>
<circle cx="340.4" cy="319.3" r="2.35"/>
<circle cx="377.1" cy="304.8" r="2.35"/>
<circle cx="413.8" cy="311.4" r="2.35"/>
<circle cx="450.6" cy="313.3" r="2.35"/>
<circle cx="487.3" cy="310.9" r="2.35"/>
<circle cx="524.0" cy="299.1" r="2.35"/>
<circle cx="560.8" cy="266.7" r="2.35"/>
<circle cx="597.5" cy="295.0" r="2.35"/>
<circle cx="46.5" cy="332.2" r="2.35"/>
<circle cx="83.2" cy="306.0" r="2.35"/>
<circle cx="120.0" cy="283.1" r="2.35"/>
<circle cx="156.7" cy="272.8" r="2.35"/>
<circle cx="193.4" cy="286.3" r="2.35"/>
<circle cx="230.2" cy="303.6" r="2.35"/>
<circle cx="266.9" cy="297.7" r="2.35"/>
<circle cx="303.6" cy="307.1" r="2.35"/>
<circle cx="340.4" cy="252.3" r="2.35"/>
<circle cx="377.1" cy="268.6" r="2.35"/>
<circle cx="413.8" cy="307.4" r="2.35"/>
<circle cx="450.6" cy="294.5" r="2.35"/>
<circle cx="487.3" cy="307.2" r="2.35"/>
<circle cx="524.0" cy="284.6" r="2.35"/>
<circle cx="560.8" cy="302.9" r="2.35"/>
<circle cx="597.5" cy="347.0" r="2.35"/>
<circle cx="46.5" cy="315.5" r="2.35"/>
<circle cx="83.2" cy="281.4" r="2.35"/>
<circle cx="120.0" cy="254.6" r="2.35"/>
<circle cx="156.7" cy="223.3" r="2.35"/>
<circle cx="193.4" cy="230.3" r="2.35"/>
<circle cx="230.2" cy="291.4" r="2.35"/>
<circle cx="266.9" cy="285.7" r="2.35"/>
<circle cx="303.6" cy="252.7" r="2.35"/>
<circle cx="340.4" cy="263.6" r="2.35"/>
<circle cx="377.1" cy="266.2" r="2.35"/>
<circle cx="413.8" cy="288.7" r="2.35"/>
<circle cx="450.6" cy="259.1" r="2.35"/>
<circle cx="487.3" cy="272.5" r="2.35"/>
<circle cx="524.0" cy="279.1" r="2.35"/>
<circle cx="560.8" cy="318.6" r="2.35"/>
<circle cx="597.5" cy="261.7" r="2.35"/>
</g>
<line x1="46" y1="296.0" x2="598" y2="301.5" stroke="#1E32FF" stroke-width="2.2"/>
<polyline fill="none" stroke="#000" stroke-width="1.25" points="46.5,324.0 83.2,298.4 120.0,273.9 156.7,251.3 193.4,264.2 230.2,286.3 266.9,295.3 303.6,294.9 340.4,293.7 377.1,300.7 413.8,297.5 450.6,289.3 487.3,290.7 524.0,295.2 560.8,300.5 597.5,305.5"/>
<circle cx="46.5" cy="324.0" r="2.4" fill="#000"/>
<circle cx="83.2" cy="298.4" r="2.4" fill="#000"/>
<circle cx="120.0" cy="273.9" r="2.4" fill="#000"/>
<circle cx="156.7" cy="251.3" r="2.4" fill="#000"/>
<circle cx="193.4" cy="264.2" r="2.4" fill="#000"/>
<circle cx="230.2" cy="286.3" r="2.4" fill="#000"/>
<circle cx="266.9" cy="295.3" r="2.4" fill="#000"/>
<circle cx="303.6" cy="294.9" r="2.4" fill="#000"/>
<circle cx="340.4" cy="293.7" r="2.4" fill="#000"/>
<circle cx="377.1" cy="300.7" r="2.4" fill="#000"/>
<circle cx="413.8" cy="297.5" r="2.4" fill="#000"/>
<circle cx="450.6" cy="289.3" r="2.4" fill="#000"/>
<circle cx="487.3" cy="290.7" r="2.4" fill="#000"/>
<circle cx="524.0" cy="295.2" r="2.4" fill="#000"/>
<circle cx="560.8" cy="300.5" r="2.4" fill="#000"/>
<circle cx="597.5" cy="305.5" r="2.4" fill="#000"/>
</g>
<rect x="46.5" y="99.5" width="551" height="354.5" fill="none" stroke="#000" stroke-width="1.4"/>
<line x1="42" y1="178.75" x2="46" y2="178.75" stroke="#000" stroke-width="1.2"/>
<text x="38.5" y="183.8" text-anchor="end" class="ax">80</text>
<line x1="42" y1="294.4" x2="46" y2="294.4" stroke="#000" stroke-width="1.2"/>
<text x="38.5" y="299.4" text-anchor="end" class="ax">75</text>
<line x1="42" y1="410.1" x2="46" y2="410.1" stroke="#000" stroke-width="1.2"/>
<text x="38.5" y="415.1" text-anchor="end" class="ax">70</text>
<line x1="46.5" y1="454" x2="46.5" y2="457.5" stroke="#000" stroke-width="1.2"/>
<text x="46.8" y="468.8" text-anchor="middle" textLength="34.1" lengthAdjust="spacingAndGlyphs" class="xl">29DEC</text>
<text x="46.8" y="480.8" text-anchor="middle" textLength="27.0" lengthAdjust="spacingAndGlyphs" class="xl">2024</text>
<line x1="156.7" y1="454" x2="156.7" y2="457.5" stroke="#000" stroke-width="1.2"/>
<text x="157.0" y="468.8" text-anchor="middle" textLength="24.9" lengthAdjust="spacingAndGlyphs" class="xl">1JAN</text>
<text x="157.0" y="480.8" text-anchor="middle" textLength="26.5" lengthAdjust="spacingAndGlyphs" class="xl">2025</text>
<line x1="230.2" y1="454" x2="230.2" y2="457.5" stroke="#000" stroke-width="1.2"/>
<text x="230.5" y="468.8" text-anchor="middle" textLength="25.4" lengthAdjust="spacingAndGlyphs" class="xl">3JAN</text>
<line x1="303.6" y1="454" x2="303.6" y2="457.5" stroke="#000" stroke-width="1.2"/>
<text x="303.9" y="468.8" text-anchor="middle" textLength="25.7" lengthAdjust="spacingAndGlyphs" class="xl">5JAN</text>
<line x1="377.1" y1="454" x2="377.1" y2="457.5" stroke="#000" stroke-width="1.2"/>
<text x="377.4" y="468.8" text-anchor="middle" textLength="24.9" lengthAdjust="spacingAndGlyphs" class="xl">7JAN</text>
<line x1="450.6" y1="454" x2="450.6" y2="457.5" stroke="#000" stroke-width="1.2"/>
<text x="450.9" y="468.8" text-anchor="middle" textLength="26.3" lengthAdjust="spacingAndGlyphs" class="xl">9JAN</text>
<line x1="524.0" y1="454" x2="524.0" y2="457.5" stroke="#000" stroke-width="1.2"/>
<text x="524.3" y="468.8" text-anchor="middle" textLength="31.7" lengthAdjust="spacingAndGlyphs" class="xl">11JAN</text>
<line x1="597.5" y1="454" x2="597.5" y2="457.5" stroke="#000" stroke-width="1.2"/>
<text x="597.8" y="468.8" text-anchor="middle" textLength="31.5" lengthAdjust="spacingAndGlyphs" class="xl">13JAN</text>
<text x="168.0" y="22.6" font-size="18.3" letter-spacing="0.73" word-spacing="4.03" textLength="287.0" lengthAdjust="spacingAndGlyphs" class="t th">Brazil Soybeans Temperature</text>
<text x="63.6" y="45.4" font-size="14.6" letter-spacing="0.58" word-spacing="3.21" textLength="494.3" lengthAdjust="spacingAndGlyphs" class="t th2">Forecast Daily&#8211;Mean Temperature Compared to Normal (&#176;F)</text>
<text x="170.5" y="65.1" font-size="14.6" letter-spacing="0.58" word-spacing="3.21" textLength="281.1" lengthAdjust="spacingAndGlyphs" class="t th2">Production&#8211;Weighted Area Average</text>
<text x="106.3" y="85.6" font-size="15" letter-spacing="0.6" word-spacing="3.3" textLength="410.3" lengthAdjust="spacingAndGlyphs" class="t th2">15&#8211;Day Forecast Beginning 29 December 2024</text>
<text x="57.6" y="116.4" font-size="11.3" letter-spacing="0.45" word-spacing="2.49" textLength="311.7" lengthAdjust="spacingAndGlyphs" class="t th3">National Weather Service Global Forecast System</text>
<text x="113.9" y="131.9" font-size="11.3" letter-spacing="0.45" word-spacing="2.49" textLength="120.9" lengthAdjust="spacingAndGlyphs" class="t th3">Ensemble Members</text>
<text x="321.3" y="132.3" font-size="11.3" letter-spacing="0.45" word-spacing="2.49" textLength="114.6" lengthAdjust="spacingAndGlyphs" class="t th3">Ensemble Average</text>
<text x="529.6" y="132" font-size="11.3" letter-spacing="0.45" word-spacing="2.49" textLength="44.8" lengthAdjust="spacingAndGlyphs" class="t th3">Normal</text>
<text x="476.1" y="447" font-size="11.3" letter-spacing="0.45" word-spacing="2.49" textLength="111.8" lengthAdjust="spacingAndGlyphs" class="t th3">World Ag Weather</text>
<text x="460.6" y="447.6" font-size="13.6" class="t">&#169;</text>
<text x="1.8" y="269" font-size="16.5" class="t"><tspan dy="0.2" font-weight="bold">&#176;</tspan><tspan dy="-0.2" dx="0.6">F</tspan></text>
<line x1="63.3" y1="127.6" x2="102.7" y2="127.6" stroke="#AAAAAA" stroke-width="1"/>
<circle cx="63.3" cy="127.6" r="2.4" fill="#AAAAAA"/><circle cx="102.7" cy="127.6" r="2.4" fill="#AAAAAA"/>
<rect x="271.1" y="122.8" width="39.9" height="4.6" fill="#5AAAFF"/><rect x="271.1" y="127.4" width="39.9" height="5.5" fill="#FF5A5A"/>
<line x1="271.6" y1="127.6" x2="310.6" y2="127.6" stroke="#000" stroke-width="1.1"/>
<circle cx="271.6" cy="127.6" r="2.5" fill="#000"/><circle cx="310.6" cy="127.6" r="2.5" fill="#000"/>
<line x1="478.1" y1="128.1" x2="519.6" y2="128.1" stroke="#1E32FF" stroke-width="2.3"/>
</svg>
</body></html>
